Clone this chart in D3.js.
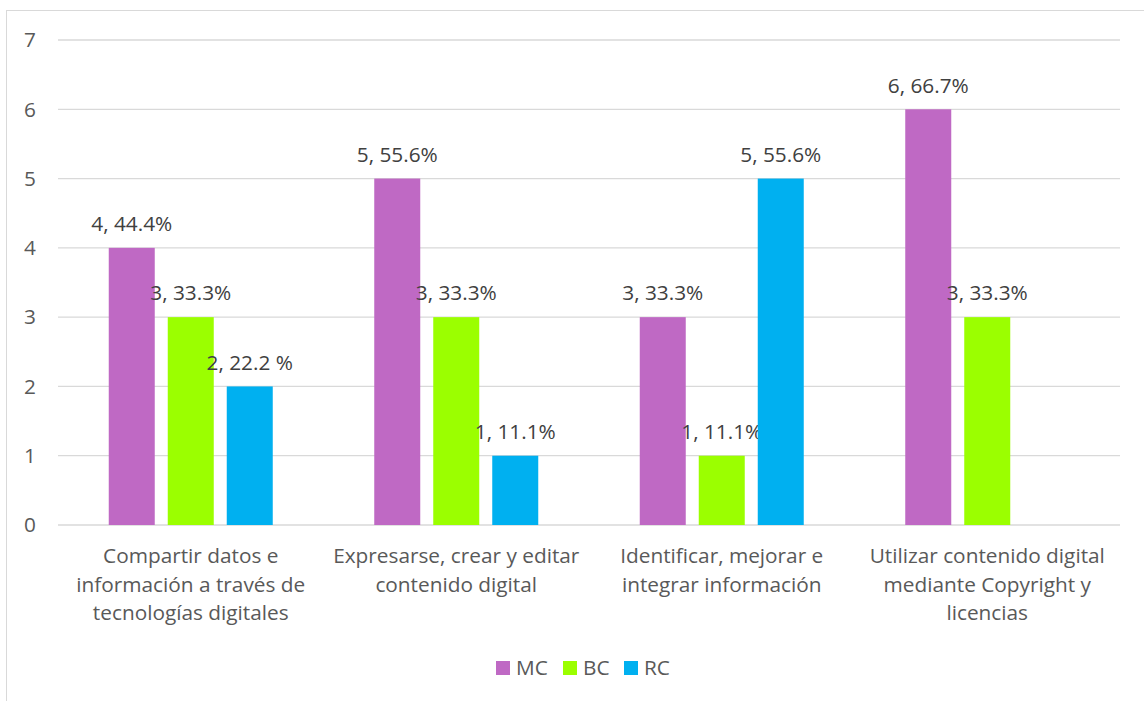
<!DOCTYPE html>
<html><head><meta charset="utf-8">
<script src="https://cdn.jsdelivr.net/npm/d3@7"></script>
<style>
html,body{margin:0;padding:0;background:#fff;}
text{font-family:"Open Sans", sans-serif;}
</style></head>
<body>
<svg id="chart" width="1144" height="701"></svg>
<script>
const categories = [
  ["Compartir datos e", "información a través de", "tecnologías digitales"],
  ["Expresarse, crear y editar", "contenido digital"],
  ["Identificar, mejorar e", "integrar información"],
  ["Utilizar contenido digital", "mediante Copyright y", "licencias"]
];
const seriesNames = ["MC", "BC", "RC"];
const mcValues = [4, 5, 3, 6];
const bcValues = [3, 3, 1, 3];
const rcValues = [2, 1, 5, null];
const mcLabels = ["4, 44.4%", "5, 55.6%", "3, 33.3%", "6, 66.7%"];
const bcLabels = ["3, 33.3%", "3, 33.3%", "1, 11.1%", "3, 33.3%"];
const rcLabels = ["2, 22.2 %", "1, 11.1%", "5, 55.6%", null];
const yTicks = [0, 1, 2, 3, 4, 5, 6, 7];
const colors = ["#BF69C4", "#9BFF00", "#00B0F0"];

const FS = 20.8;
const svg = d3.select("#chart");
svg.append("rect").attr("x", 6.5).attr("y", 10.5).attr("width", 1150).attr("height", 700)
  .attr("fill", "none").attr("stroke", "#D9D9D9").attr("stroke-width", 1);

const x0 = 58, x1 = 1120, yTop = 40, yBot = 525;
const y = d3.scaleLinear().domain([0, 7]).range([yBot, yTop]);
const xc = d3.scaleBand().domain(d3.range(categories.length)).range([x0, x1]);
const xs = d3.scaleBand().domain(d3.range(3)).range([0, 164]).paddingInner(13/59).paddingOuter(0);

svg.append("g").selectAll("line").data(yTicks).join("line")
  .attr("x1", x0).attr("x2", x1)
  .attr("y1", d => y(d)).attr("y2", d => y(d))
  .attr("stroke", "#D9D9D9").attr("stroke-width", 1.3);

svg.append("g").selectAll("text").data(yTicks).join("text")
  .attr("x", 30).attr("y", d => y(d)).attr("dy", "0.35em")
  .attr("text-anchor", "middle").attr("font-size", FS).attr("fill", "#595959")
  .text(d => d);

const series = [mcValues, bcValues, rcValues];
const labels = [mcLabels, bcLabels, rcLabels];
const groupOffset = (xc.bandwidth() - 164) / 2;

series.forEach((vals, si) => {
  const g = svg.append("g");
  const data = vals.map((v, i) => ({v, i, label: labels[si][i]})).filter(d => d.v != null);
  g.selectAll("rect").data(data).join("rect")
    .attr("x", d => xc(d.i) + groupOffset + xs(si))
    .attr("width", xs.bandwidth())
    .attr("y", d => y(d.v))
    .attr("height", d => y(0) - y(d.v))
    .attr("fill", colors[si]);
  g.selectAll("text").data(data).join("text")
    .attr("x", d => xc(d.i) + groupOffset + xs(si) + xs.bandwidth() / 2)
    .attr("y", d => y(d.v) - 24).attr("dy", "0.35em")
    .attr("text-anchor", "middle").attr("font-size", FS).attr("fill", "#404040")
    .text(d => d.label);
});

const catG = svg.append("g");
categories.forEach((lines, i) => {
  const cx = xc(i) + xc.bandwidth() / 2;
  const t = catG.append("text")
    .attr("x", cx).attr("y", 556)
    .attr("text-anchor", "middle").attr("font-size", FS).attr("fill", "#595959");
  lines.forEach((ln, j) => {
    t.append("tspan").attr("x", cx).attr("dy", j === 0 ? "0.35em" : 28.5).text(ln);
  });
});

const legendX = [496, 563, 624];
const leg = svg.append("g");
seriesNames.forEach((name, i) => {
  leg.append("rect").attr("x", legendX[i]).attr("y", 661).attr("width", 14).attr("height", 14).attr("fill", colors[i]);
  leg.append("text").attr("x", legendX[i] + 20).attr("y", 668).attr("dy", "0.35em")
    .attr("font-size", FS).attr("fill", "#595959").text(name);
});
</script>
</body></html>
